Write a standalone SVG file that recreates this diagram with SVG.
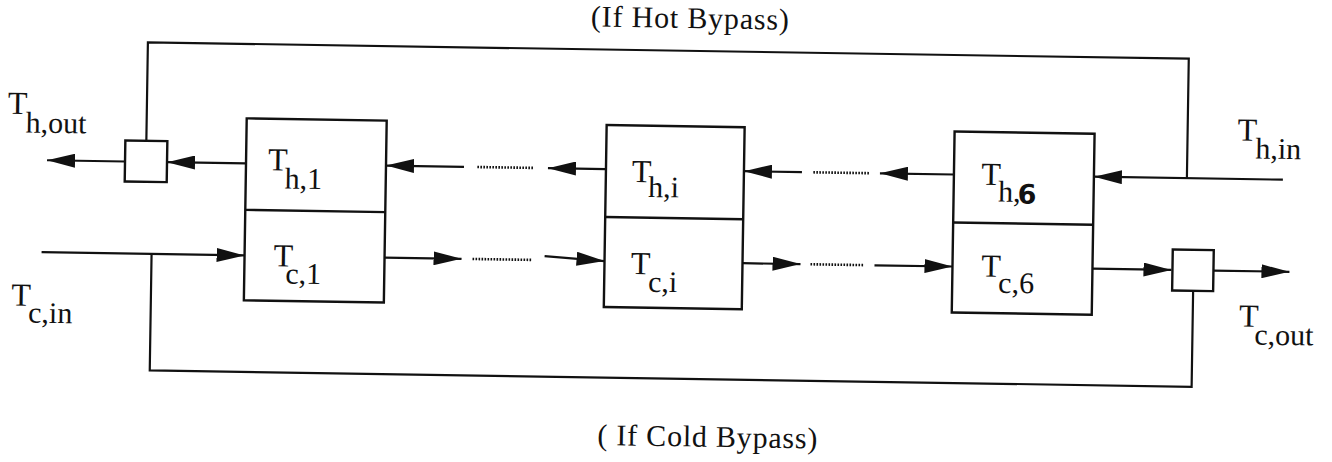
<svg xmlns="http://www.w3.org/2000/svg" width="1332" height="462" viewBox="0 0 1332 462">
  <defs>
    <marker id="arrow" markerUnits="userSpaceOnUse" markerWidth="28" markerHeight="14" viewBox="0 0 28 14" refX="28" refY="7" orient="auto">
      <path d="M0,0 L28,7 L0,14 z" fill="#111"/>
    </marker>
    <style>
      .ln { fill: none; stroke: #111; stroke-width: 2.2; }
      .arr { marker-end: url(#arrow); }
      .dots { fill: none; stroke: #111; stroke-width: 2.6; stroke-dasharray: 1.6 1.4; }
      .box { fill: #fff; stroke: #111; stroke-width: 2.4; }
      .div { stroke: #111; stroke-width: 2.4; }
      .lbl { font-family: "Liberation Serif", "Times New Roman", serif; fill: #111; }
      .T { font-size: 32px; }
      .sub { font-size: 30px; }
      .hand { font-family: "DejaVu Sans", sans-serif; font-weight: bold; font-size: 27px; }
      .title { font-family: "Liberation Serif", "Times New Roman", serif; font-size: 30px; fill: #111; }
    </style>
  </defs>
  <rect width="1332" height="462" fill="#fff"/>

  <g transform="rotate(0.9 666 231)">
    <!-- flow lines -->
    <g id="connectors">
      <!-- hot stream (right to left) -->
      <path class="ln arr" d="M1282,170 H1093"/>
      <path class="ln" d="M1186,170 V50.5 H145 V149"/>
      <path class="ln arr" d="M953,170 H879"/>
      <path class="dots" d="M868,170 H811"/>
      <path class="ln arr" d="M801,170 H743"/>
      <path class="ln arr" d="M605,170 H547"/>
      <path class="dots" d="M532,170 H475"/>
      <path class="ln arr" d="M463,170 H385"/>
      <path class="ln arr" d="M245,170 H166"/>
      <path class="ln arr" d="M124,170 H46"/>

      <!-- cold stream (left to right) -->
      <path class="ln arr" d="M42,262 H245"/>
      <path class="ln" d="M152,262 V378.5 H1194 V283"/>
      <path class="ln arr" d="M385,262 H462"/>
      <path class="dots" d="M473,262 H532"/>
      <path class="ln arr" d="M545,258 L605,262"/>
      <path class="ln arr" d="M743,262 H801"/>
      <path class="dots" d="M811,262 H864"/>
      <path class="ln arr" d="M875,262 H953"/>
      <path class="ln arr" d="M1093,262 H1172"/>
      <path class="ln arr" d="M1214,262 H1290"/>
    </g>

    <!-- hot-side mixer -->
    <g id="hot-mixer">
      <rect class="box" x="124" y="149" width="42" height="41"/>
    </g>

    <!-- cold-side mixer -->
    <g id="cold-mixer">
      <rect class="box" x="1173" y="241.5" width="41" height="41"/>
    </g>

    <!-- cell 1 -->
    <g id="cell-1">
      <rect class="box" x="245" y="125" width="140" height="182"/>
      <line class="div" x1="245" y1="216.5" x2="385" y2="216.5"/>
      <text class="lbl"><tspan class="T" x="267" y="176.6">T</tspan><tspan class="sub" x="284" y="194.4">h,1</tspan></text>
      <text class="lbl"><tspan class="T" x="274" y="272.5">T</tspan><tspan class="sub" x="286" y="289.4">c,1</tspan></text>
    </g>

    <!-- cell i -->
    <g id="cell-i">
      <rect class="box" x="605" y="126" width="138" height="182"/>
      <line class="div" x1="605" y1="218" x2="743" y2="218"/>
      <text class="lbl"><tspan class="T" x="631" y="182.6">T</tspan><tspan class="sub" x="647.5" y="197.3">h,i</tspan></text>
      <text class="lbl"><tspan class="T" x="631.5" y="274.6">T</tspan><tspan class="sub" x="649" y="292">c,i</tspan></text>
    </g>

    <!-- cell 6 -->
    <g id="cell-6">
      <rect class="box" x="953" y="127" width="140" height="181"/>
      <line class="div" x1="953" y1="218" x2="1093" y2="218"/>
      <text class="lbl"><tspan class="T" x="980.5" y="179.8">T</tspan><tspan class="sub" x="997.5" y="196.2">h,</tspan><tspan class="hand" x="1017" y="198">6</tspan></text>
      <text class="lbl"><tspan class="T" x="982" y="271.5">T</tspan><tspan class="sub" x="999" y="287.5">c,6</tspan></text>
    </g>

    <!-- stream end labels -->
    <g id="label-h-out">
      <text class="lbl"><tspan class="T" x="6" y="124">T</tspan><tspan class="sub" x="24" y="142.6">h,out</tspan></text>
    </g>
    <g id="label-c-in">
      <text class="lbl"><tspan class="T" x="12.5" y="315.9">T</tspan><tspan class="sub" x="29.5" y="332.6">c,in</tspan></text>
    </g>
    <g id="label-h-in">
      <text class="lbl"><tspan class="T" x="1236" y="131.5">T</tspan><tspan class="sub" x="1254" y="149.2">h,in</tspan></text>
    </g>
    <g id="label-c-out">
      <text class="lbl"><tspan class="T" x="1240.5" y="317.5">T</tspan><tspan class="sub" x="1256" y="335.3">c,out</tspan></text>
    </g>

    <!-- bypass captions -->
    <text class="title" x="686.6" y="27.6" text-anchor="middle" textLength="198" lengthAdjust="spacing">(If Hot Bypass)</text>
    <text class="title" x="710.6" y="446" text-anchor="middle" textLength="220" lengthAdjust="spacing">( If Cold Bypass)</text>
  </g>
</svg>
